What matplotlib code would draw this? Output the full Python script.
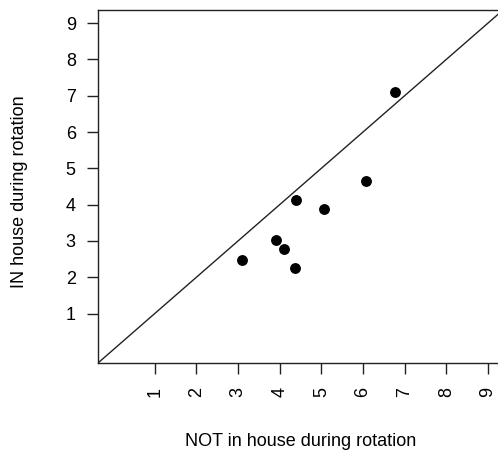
import matplotlib
matplotlib.use('Agg')
import matplotlib.pyplot as plt

plt.rcParams['font.family'] = ['Liberation Sans', 'DejaVu Sans']

not_in_house = [3.10, 3.90, 4.11, 4.36, 4.40, 5.06, 6.07, 6.76]
in_house = [2.47, 3.04, 2.78, 2.25, 4.13, 3.87, 4.66, 7.11]
ticks = [1, 2, 3, 4, 5, 6, 7, 8, 9]

fig = plt.figure(figsize=(4.98, 4.53), dpi=100)
# R-style box, right edge runs just past the image
ax = fig.add_axes([98 / 498, 1 - 363 / 453, 405 / 498, 353 / 453])

ax.plot(not_in_house, in_house, 'o', color='black', markersize=6.8)
ax.axline((0, 0), slope=1, color='#222222', linewidth=1)

ax.set_xlim(-0.36, 9.36)
ax.set_ylim(-0.36, 9.36)
ax.set_xticks(ticks)
ax.set_yticks(ticks)
ax.set_xticklabels([str(t) for t in ticks], rotation=90)
ax.tick_params(axis='both', length=8, width=1, pad=8, labelsize=13, colors='#222222')
ax.tick_params(axis='both', labelcolor='black')
ax.tick_params(axis='x', pad=9.5)
for sp in ax.spines.values():
    sp.set_color('#222222')
    sp.set_linewidth(1)

ax.set_xlabel('NOT in house during rotation', fontsize=13)
ax.set_ylabel('IN house during rotation', fontsize=13)
ax.xaxis.label.set_va('center')
ax.yaxis.label.set_va('center')
ax.xaxis.set_label_coords(0.5, -0.222)
ax.yaxis.set_label_coords(-0.193, 0.485)

fig.savefig('out.png', dpi=100)
